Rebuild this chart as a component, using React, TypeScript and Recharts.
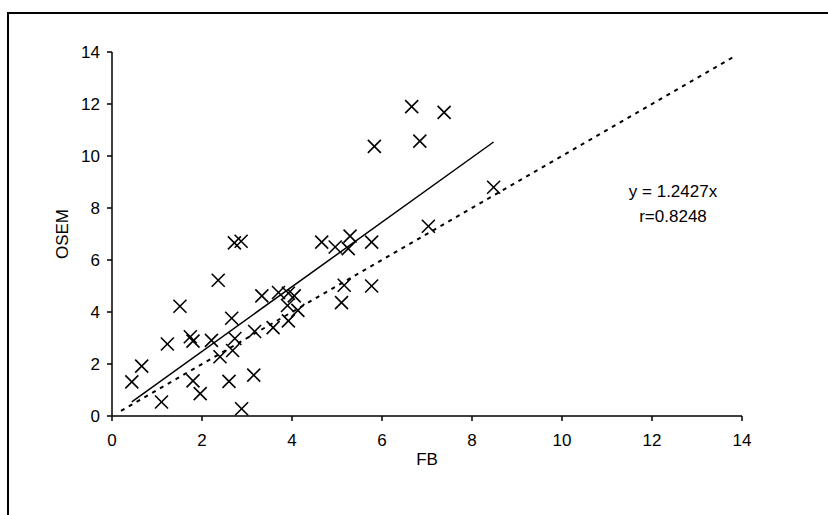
import { ScatterChart, Scatter, XAxis, YAxis, ReferenceLine, Label } from 'recharts'

// FB vs OSEM measurements
const fb = [
  0.44, 0.66, 1.1, 1.23, 1.51, 1.74, 1.8, 1.8, 1.96, 2.21,
  2.36, 2.4, 2.6, 2.66, 2.73, 2.68, 2.72, 2.87, 2.88, 3.15,
  3.17, 3.33, 3.58, 3.7, 3.92, 4.05, 3.9, 4.13, 3.92, 4.66,
  4.96, 5.1, 5.16, 5.25, 5.29, 5.77, 5.77, 5.83, 6.66, 6.84,
  7.03, 7.38, 8.48,
]
const osem = [
  1.31, 1.92, 0.54, 2.77, 4.22, 3.05, 2.88, 1.35, 0.86, 2.91,
  5.22, 2.28, 1.33, 3.76, 2.98, 2.52, 6.66, 6.72, 0.28, 1.57,
  3.25, 4.62, 3.4, 4.75, 4.72, 4.62, 4.25, 4.06, 3.66, 6.69,
  6.5, 4.36, 5.03, 6.44, 6.92, 6.69, 5.0, 10.37, 11.9, 10.57,
  7.3, 11.68, 8.8,
]
const axisTicks = [0, 2, 4, 6, 8, 10, 12, 14]
const slope = 1.2427
const r = 0.8248
// line of identity, drawn across the axis range
const identityRange = [0.2, 13.8]

const points = fb.map((x, i) => ({ x, y: osem[i] }))
const xMin = Math.min(...fb)
const xMax = Math.max(...fb)

const font = '"Liberation Sans", Arial, sans-serif'
const tickStyle = { fontSize: 17, fill: '#000', fontFamily: font }

function Cross(props: any) {
  const { cx, cy } = props
  const s = 6.5
  return (
    <g stroke="#000" strokeWidth={1.6}>
      <line x1={cx - s} y1={cy - s} x2={cx + s} y2={cy + s} />
      <line x1={cx - s} y1={cy + s} x2={cx + s} y2={cy - s} />
    </g>
  )
}

export default function App() {
  return (
    <div style={{ position: 'absolute', left: 0, top: 0, width: 828, height: 515, overflow: 'hidden', background: '#fff' }}>
      <div
        style={{
          position: 'absolute', left: 7, top: 12, width: 900, height: 600,
          borderLeft: '2px solid #000', borderTop: '2px solid #000',
        }}
      />
      <ScatterChart width={828} height={515} margin={{ top: 52, right: 86, bottom: 39, left: 12 }}>
        <XAxis
          type="number"
          dataKey="x"
          domain={[0, 14]}
          ticks={axisTicks}
          tick={tickStyle}
          tickSize={5}
          tickMargin={13}
          height={60}
          axisLine={{ stroke: '#000', strokeWidth: 1.5 }}
          tickLine={{ stroke: '#000', strokeWidth: 1.5 }}
        >
          <Label value="FB" position="center" dy={13} style={{ fontSize: 17, fill: '#000', fontFamily: font }} />
        </XAxis>
        <YAxis
          type="number"
          dataKey="y"
          domain={[0, 14]}
          ticks={axisTicks}
          tick={tickStyle}
          tickSize={5}
          tickMargin={7}
          width={100}
          axisLine={{ stroke: '#000', strokeWidth: 1.5 }}
          tickLine={{ stroke: '#000', strokeWidth: 1.5 }}
        >
          <Label value="OSEM" position="center" angle={-90} style={{ fontSize: 17, fill: '#000', fontFamily: font, textAnchor: 'middle' }} />
        </YAxis>
        <ReferenceLine
          segment={[{ x: identityRange[0], y: identityRange[0] }, { x: identityRange[1], y: identityRange[1] }]}
          stroke="#000"
          strokeWidth={2}
          strokeDasharray="4 5"
        />
        <ReferenceLine
          segment={[{ x: xMin, y: xMin * slope }, { x: xMax, y: xMax * slope }]}
          stroke="#000"
          strokeWidth={1.5}
        />
        <Scatter data={points} shape={Cross} isAnimationActive={false} />
      </ScatterChart>
      <div
        style={{
          position: 'absolute', left: 612, top: 179, width: 122, textAlign: 'center',
          fontFamily: font, fontSize: 17, lineHeight: '25px', color: '#000',
        }}
      >
        <div>y = {slope}x</div>
        <div>r={r}</div>
      </div>
    </div>
  )
}
